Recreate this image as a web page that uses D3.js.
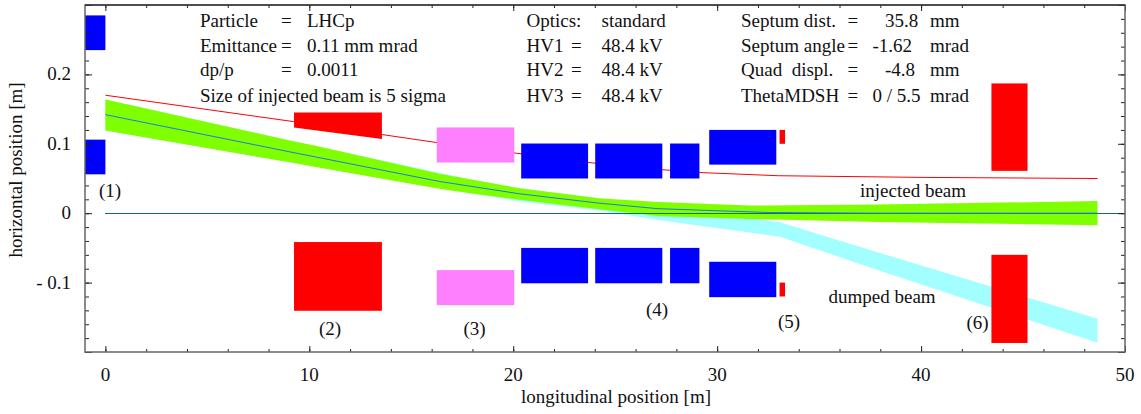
<!DOCTYPE html>
<html>
<head>
<meta charset="utf-8">
<script src="https://cdnjs.cloudflare.com/ajax/libs/d3/7.8.5/d3.min.js"></script>
<style>
html,body{margin:0;padding:0;background:#fff;}
svg{display:block;}
text{font-family:"Liberation Serif",serif;font-size:19px;fill:#111;white-space:pre;}
</style>
</head>
<body>
<div id="chart"></div>
<script>
// beam envelopes [longitudinal m, horizontal m]
var greenX=[0,9.04,10.25,16.37,17.8,20.3,24.2,27.1,31.6,37.9,48.65];
var greenTop=[.1638,.1048,.0975,.057,.0493,.036,.0217,.016,.011,.0125,.0174];
var greenBottom=[.1193,.0733,.067,.0352,.029,.0193,.0058,-.004,-.0085,-.0126,-.0174];
var cyanX=[0,9.04,17.8,20.3,24.2,27.1,33.08,37.9,48.65];
var cyanTop=[.1638,.1048,.0493,.036,.0217,.008,-.013,-.0565,-.152];
var cyanBottom=[.1193,.0733,.029,.017,.004,-.0097,-.034,-.0822,-.1865];
var centreX=[0,9.04,16.37,20.3,24.2,27.1,32.5,37.9,48.65];
var centreY=[.142,.0884,.0458,.028,.0145,.0065,.001,0,0];
var redX=[0,9.22,16.2,20,23.6,27.3,29,33,40,48.65];
var redY=[.17,.132,.102,.087,.0733,.0627,.0588,.054,.0516,.05];
// elements: x0,x1,y0,y1
var blueBoxes=[[-1,0,.235,.285],[-1,0,.056,.106],
	[20.39,23.67,.05,.1004],[24.02,27.31,.05,.1004],[27.69,29.13,.05,.1004],
	[20.39,23.67,-.101,-.05],[24.02,27.31,-.101,-.05],[27.69,29.13,-.101,-.05],
	[29.61,32.9,.07,.12],[29.61,32.9,-.121,-.07]];
var redBoxes=[[9.25,13.56,-.1406,-.0416],[33.06,33.33,.1,.12],[33.06,33.33,-.12,-.1],
	[43.45,45.22,.061,.187],[43.45,45.22,-.187,-.06]];
var magentaBoxes=[[16.25,20.05,.073,.1236],[16.25,20.05,-.1325,-.082]];
var septumX=[9.25,13.56,13.56,9.25];
var septumY=[.145,.145,.107,.1236];
var xMajor=[0,10,20,30,40,50];
var yMajor=[-.2,-.1,0,.1,.2,.3];
var yLabels={"-0.1":"- 0.1","0":"0","0.1":"0.1","0.2":"0.2"};
var col1=[["Particle","=","LHCp"],["Emittance","=","0.11 mm mrad"],["dp/p","=","0.0011"],["Size of injected beam is 5 sigma","",""]];
var col2=[["Optics:","","standard"],["HV1","=","48.4 kV"],["HV2","=","48.4 kV"],["HV3","=","48.4 kV"]];
var col3=[["Septum dist.","=","","35.8","mm"],["Septum angle","=","-1.62","","mrad"],["Quad  displ.","=","","-4.8","mm"],["ThetaMDSH","=","0 / 5.5","","mrad"]];

var width=1141,height=414;
var margin={top:5,right:16,bottom:62,left:85};
var svg=d3.select("#chart").append("svg").attr("width",width).attr("height",height);
var x=d3.scaleLinear().domain([-1,50]).range([margin.left,width-margin.right]);
var y=d3.scaleLinear().domain([-.2,.3]).range([height-margin.bottom,margin.top]);

function band(xs,top,bottom){
	return d3.area().x(function(d,i){return x(xs[i]);})
		.y0(function(d,i){return y(bottom[i]);})
		.y1(function(d,i){return y(top[i]);})(xs);
}
function line(xs,ys){
	return d3.line().x(function(d,i){return x(xs[i]);}).y(function(d,i){return y(ys[i]);})(xs);
}
function boxes(arr,color){
	svg.append("g").selectAll("rect").data(arr).enter().append("rect")
		.attr("x",function(d){return x(d[0]);})
		.attr("width",function(d){return x(d[1])-x(d[0]);})
		.attr("y",function(d){return y(d[3]);})
		.attr("height",function(d){return y(d[2])-y(d[3]);})
		.attr("fill",color);
}

//==================beams=======================
svg.append("path").attr("d",band(cyanX,cyanTop,cyanBottom)).attr("fill","#a3ffff");
svg.append("path").attr("d",band(greenX,greenTop,greenBottom)).attr("fill","#80ff00");
svg.append("path").attr("d",line(redX,redY)).attr("fill","none").attr("stroke","#ff0000").attr("stroke-width",1);
svg.append("path").attr("d",line([0,50],[0,0])).attr("fill","none").attr("stroke","#14705a").attr("stroke-width",1).attr("shape-rendering","crispEdges");
svg.append("path").attr("d",line(centreX,centreY)).attr("fill","none").attr("stroke","#1e78e6").attr("stroke-width",1);

//==================elements=======================
boxes(magentaBoxes,"#ff80ff");
boxes(blueBoxes,"#0000ff");
boxes(redBoxes,"#ff0000");
svg.append("polygon").attr("fill","#ff0000")
	.attr("points",septumX.map(function(d,i){return x(d)+","+y(septumY[i]);}).join(" "));

//==================axes=======================
function minorX(){return d3.range(0,51,2);}
function minorY(){return d3.range(-10,16).map(function(d){return d*.02;});}
function tickAxis(axis,vals,size,pos){
	var g=svg.append("g").attr("transform",pos).call(axis.tickValues(vals).tickSize(size).tickFormat(""));
	g.select(".domain").remove();
	g.selectAll("line").attr("stroke","#222").attr("stroke-width",1);
	return g;
}
var bot="translate(0,"+(height-margin.bottom)+")",topp="translate(0,"+margin.top+")";
var lft="translate("+margin.left+",0)",rgt="translate("+(width-margin.right)+",0)";
tickAxis(d3.axisTop(x),minorX(),3,bot);
tickAxis(d3.axisTop(x),xMajor,6,bot);
tickAxis(d3.axisBottom(x),minorX(),3,topp);
tickAxis(d3.axisBottom(x),xMajor,6,topp);
tickAxis(d3.axisRight(y),minorY(),4,lft);
tickAxis(d3.axisRight(y),yMajor,7,lft);
tickAxis(d3.axisLeft(y),minorY(),4,rgt);
tickAxis(d3.axisLeft(y),yMajor,7,rgt);

svg.append("rect").attr("x",margin.left).attr("y",margin.top)
	.attr("width",width-margin.left-margin.right).attr("height",height-margin.top-margin.bottom)
	.attr("fill","none").attr("stroke","#666").attr("stroke-width",1.5);
svg.append("line").attr("x1",margin.left).attr("x2",width-margin.right)
	.attr("y1",margin.top).attr("y2",margin.top).attr("stroke","#111").attr("stroke-width",1);

svg.append("g").selectAll("text").data(xMajor).enter().append("text")
	.attr("x",function(d){return x(d);}).attr("y",381).attr("text-anchor","middle").text(function(d){return d;});
svg.append("g").selectAll("text").data(yMajor.filter(function(d){return yLabels[d]!==undefined;})).enter().append("text")
	.attr("x",71).attr("y",function(d){return y(d)+6;}).attr("text-anchor","end").text(function(d){return yLabels[d];});

svg.append("text").attr("x",616).attr("y",403).attr("text-anchor","middle").text("longitudinal position [m]");
svg.append("text").attr("transform","translate(22,170) rotate(-90)").attr("text-anchor","middle").text("horizontal position [m]");

//==================info text=======================
var rows=[26.5,51.5,76,101.5];
function infoCol(arr,xs){
	arr.forEach(function(r,i){
		r.forEach(function(t,j){
			if(t!=""){svg.append("text").attr("x",xs[j]).attr("y",rows[i]).text(t);}
		});
	});
}
infoCol(col1,[200,281,307]);
infoCol(col2,[526.5,571,601.5]);
infoCol(col3,[741,847.5,872.5,885,930]);

var tags=[["(1)",110,197],["(2)",330,335],["(3)",474.5,335],["(4)",657,316],["(5)",789,328],["(6)",977.5,329]];
svg.append("g").selectAll("text").data(tags).enter().append("text")
	.attr("x",function(d){return d[1];}).attr("y",function(d){return d[2];})
	.attr("text-anchor","middle").text(function(d){return d[0];});
svg.append("text").attr("x",860).attr("y",197).text("injected beam");
svg.append("text").attr("x",828.5).attr("y",303).text("dumped beam");
</script>
</body>
</html>
